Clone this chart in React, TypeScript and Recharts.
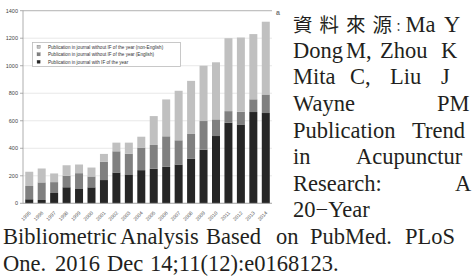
import { BarChart, Bar, XAxis, YAxis, CartesianGrid, Legend, ReferenceLine } from "recharts";

const years = ["1995", "1996", "1997", "1998", "1999", "2000", "2001", "2002", "2003", "2004", "2005", "2006", "2007", "2008", "2009", "2010", "2011", "2012", "2013", "2014"];
// publications per year, split in three groups (stacked)
const withIF = [29, 24, 75, 116, 104, 116, 169, 224, 210, 241, 251, 265, 282, 323, 390, 489, 586, 573, 663, 656];
const englishNoIF = [96, 128, 79, 84, 115, 79, 132, 154, 151, 164, 173, 222, 176, 181, 208, 121, 84, 92, 93, 135];
const nonEnglishNoIF = [104, 101, 63, 77, 63, 65, 58, 63, 80, 79, 210, 268, 360, 386, 402, 415, 530, 540, 474, 529];
const yTicks = [0, 200, 400, 600, 800, 1000, 1200, 1400];

const seriesNames = {
  withIF: "Publication in journal with IF of the year",
  englishNoIF: "Publication in journal without IF of the year (English)",
  nonEnglishNoIF: "Publication in journal without IF of the year (non-English)",
};

// citation text beside the figure (cut by the page edge as in the source): [word, x] per line
const citeLines: { y: number; words: [string, number][] }[] = [
  { y: 57.5, words: [["Dong", 293], ["M,", 346], ["Zhou", 380], ["K", 441]] },
  { y: 84, words: [["Mita", 293], ["C,", 350], ["Liu", 390], ["J", 441]] },
  { y: 111, words: [["Wayne", 293], ["PM", 437]] },
  { y: 137.5, words: [["Publication", 293], ["Trend", 412]] },
  { y: 164, words: [["in", 293], ["Acupunctur", 356]] },
  { y: 190.5, words: [["Research:", 293], ["A", 455]] },
  { y: 217, words: [["20−Year", 293]] },
  { y: 244, words: [["Bibliometric", 3], ["Analysis", 120], ["Based", 206], ["on", 276], ["PubMed.", 310], ["PLoS", 405]] },
  { y: 270.5, words: [["One.", 3], ["2016", 55], ["Dec", 107], ["14;11(12):e0168123.", 150]] },
];

const data = years.map((year, i) => ({
  year,
  withIF: withIF[i],
  englishNoIF: englishNoIF[i],
  nonEnglishNoIF: nonEnglishNoIF[i],
}));

const YearTick = ({ x, y, payload }: any) => (
  <text
    x={x + 2}
    y={y + 2}
    transform={`rotate(-45 ${x + 2} ${y + 2})`}
    textAnchor="end"
    fontSize={5}
    fill="#555"
    fontFamily="Liberation Sans, Arial, sans-serif"
  >
    {payload.value}
  </text>
);

const LegendBox = ({ payload }: any) => {
  const items = [...(payload || [])].reverse();
  return (
    <svg width={149} height={25} style={{ display: "block" }}>
      <rect x={0.5} y={0.5} width={148} height={24} fill="#fff" stroke="#bbb" strokeWidth={0.8} />
      {items.map((it: any, i: number) => (
        <g key={it.value}>
          <rect x={5} y={3.2 + i * 7.5} width={3.2} height={3.2} fill={it.color} stroke="#666" strokeWidth={0.3} />
          <text x={16} y={6.6 + i * 7.5} fontSize={4.6} fill="#333" fontFamily="Liberation Sans, Arial, sans-serif">
            {it.value}
          </text>
        </g>
      ))}
    </svg>
  );
};

export default function App() {
  const serif = "'Liberation Serif', 'Times New Roman', serif";
  return (
    <div style={{ position: "fixed", left: 0, top: 0, width: 473, height: 276, overflow: "hidden", background: "#fff" }}>
      <div style={{ position: "absolute", left: 0, top: 0 }}>
        <BarChart width={285} height={228} data={data} margin={{ top: 10.7, right: 13, left: 0, bottom: 0 }} barCategoryGap="18%">
          <CartesianGrid vertical={false} stroke="#e2e2e2" strokeWidth={0.8} />
          <XAxis dataKey="year" height={24.7} interval={0} tickLine={false} axisLine={{ stroke: "#999", strokeWidth: 0.8 }} tick={<YearTick />} />
          <YAxis
            width={23}
            domain={[0, 1400]}
            ticks={yTicks}
            interval={0}
            tickSize={3}
            tickMargin={2}
            axisLine={{ stroke: "#999", strokeWidth: 0.8 }}
            tickLine={{ stroke: "#999", strokeWidth: 0.8 }}
            tick={{ fontSize: 5.5, fill: "#444", fontFamily: "Liberation Sans, Arial, sans-serif" }}
          />
          <YAxis yAxisId="frame" orientation="right" width={0} domain={[0, 1400]} tick={false} tickLine={false} axisLine={{ stroke: "#aaa", strokeWidth: 0.8 }} />
          <ReferenceLine y={1400} stroke="#aaa" strokeWidth={0.8} />
          <Legend
            layout="horizontal"
            verticalAlign="middle"
            align="center"
            content={<LegendBox />}
            wrapperStyle={{ position: "absolute", top: 41.5, left: 31.5, width: 149, height: 25 }}
          />
          <Bar dataKey="withIF" name={seriesNames.withIF} stackId="a" fill="#262626" isAnimationActive={false} />
          <Bar dataKey="englishNoIF" name={seriesNames.englishNoIF} stackId="a" fill="#808080" isAnimationActive={false} />
          <Bar dataKey="nonEnglishNoIF" name={seriesNames.nonEnglishNoIF} stackId="a" fill="#c0c0c0" isAnimationActive={false} />
        </BarChart>
      </div>
      <svg width={473} height={276} style={{ position: "absolute", left: 0, top: 0, pointerEvents: "none" }}>
        <text x={276} y={15} fontSize={7} fontWeight="bold" fill="#777" fontFamily="Liberation Sans, Arial, sans-serif">a</text>
        <text y={32} fontSize={19.5} fill="#231f20" fontFamily="'Noto Sans CJK TC', sans-serif">
          <tspan x="293 319.5 346 372.5">資料來源</tspan>
          <tspan x={392.5} fontSize={12}>：</tspan>
        </text>
        <text y={32} fontSize={22.5} fill="#231f20" fontFamily={serif}>
          <tspan x={405.5}>Ma</tspan>
          <tspan x={444}>Y</tspan>
        </text>
        {citeLines.map((line, li) => (
          <text key={li} y={line.y} fontSize={22.5} fill="#231f20" fontFamily={serif}>
            {line.words.map(([w, x]) => (
              <tspan key={w + x} x={x}>{w}</tspan>
            ))}
          </text>
        ))}
      </svg>
    </div>
  );
}
